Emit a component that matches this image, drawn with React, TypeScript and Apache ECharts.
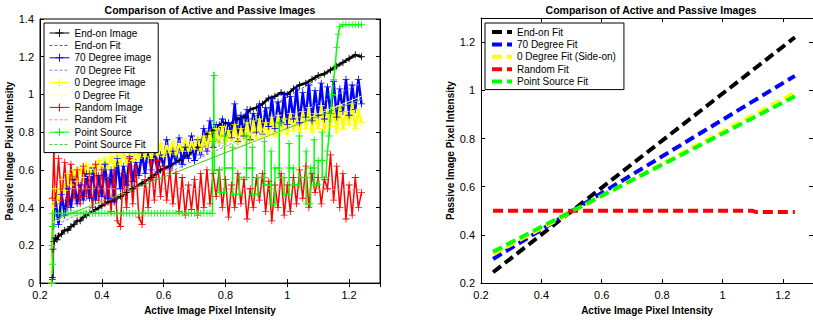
import React, { useEffect, useRef } from "react";
import * as echarts from "echarts";

const TITLE = "Comparison of Active and Passive Images";
const X_NAME = "Active Image Pixel Intensity";
const Y_NAME = "Passive Image Pixel Intensity";

// left panel axis ranges
const LEFT_X = { min: 0.2, max: 1.3, interval: 0.2 };
const LEFT_Y = { min: 0, max: 1.4, interval: 0.2 };
// right panel axis ranges
const RIGHT_X = { min: 0.2, max: 1.3, interval: 0.2 };
const RIGHT_Y = { min: 0.2, max: 1.3, interval: 0.2 };

const leftNames = [
  "End-on Image", "End-on Fit", "70 Degree image", "70 Degree Fit",
  "0 Degree image", "0 Degree Fit", "Random Image", "Random Fit",
  "Point Source", "Point Source Fit",
];
const rightNames = [
  "End-on Fit", "70 Degree Fit", "0 Degree Fit (Side-on)", "Random Fit", "Point Source Fit",
];
const rightColors = ["#000000", "#0000ff", "#ffff00", "#ff0000", "#00ff00"];

const endOnImage = [
  [0.24, 0.03], [0.242, 0.18], [0.245, 0.22], [0.25, 0.24], [0.255, 0.23], [0.26, 0.25], [0.27, 0.26],
  [0.28, 0.28], [0.29, 0.28], [0.3, 0.3], [0.31, 0.31], [0.32, 0.33], [0.33, 0.33], [0.34, 0.35],
  [0.35, 0.36], [0.36, 0.37], [0.37, 0.38], [0.38, 0.39], [0.4, 0.41], [0.42, 0.43], [0.44, 0.44],
  [0.46, 0.46], [0.48, 0.48], [0.5, 0.5], [0.53, 0.53], [0.56, 0.56], [0.59, 0.6], [0.62, 0.62],
  [0.65, 0.65], [0.68, 0.68], [0.71, 0.72], [0.74, 0.79], [0.76, 0.81], [0.78, 0.84], [0.8, 0.85],
  [0.82, 0.84], [0.84, 0.87], [0.86, 0.88], [0.88, 0.92], [0.9, 0.93], [0.92, 0.95], [0.94, 0.98],
  [0.96, 0.99], [0.98, 1.01], [1.0, 1.0], [1.02, 1.03], [1.04, 1.05], [1.06, 1.06], [1.08, 1.08],
  [1.1, 1.1], [1.12, 1.11], [1.14, 1.13], [1.16, 1.15], [1.18, 1.17], [1.2, 1.19], [1.22, 1.21], [1.24, 1.2],
];

const deg70Image = [
  [0.24, 0.02], [0.242, 0.3], [0.25, 0.44], [0.26, 0.31], [0.27, 0.47], [0.28, 0.36], [0.29, 0.5],
  [0.3, 0.4], [0.31, 0.55], [0.32, 0.42], [0.33, 0.52], [0.34, 0.44], [0.35, 0.58], [0.36, 0.45],
  [0.37, 0.61], [0.38, 0.44], [0.39, 0.57], [0.4, 0.46], [0.41, 0.63], [0.42, 0.45], [0.43, 0.6],
  [0.44, 0.43], [0.45, 0.66], [0.46, 0.5], [0.47, 0.62], [0.48, 0.52], [0.49, 0.67], [0.5, 0.54],
  [0.51, 0.64], [0.52, 0.57], [0.53, 0.69], [0.54, 0.58], [0.55, 0.74], [0.56, 0.6], [0.57, 0.71],
  [0.58, 0.59], [0.59, 0.68], [0.6, 0.62], [0.61, 0.76], [0.62, 0.61], [0.63, 0.7], [0.64, 0.64],
  [0.65, 0.77], [0.66, 0.63], [0.67, 0.72], [0.68, 0.66], [0.69, 0.78], [0.7, 0.65], [0.71, 0.76],
  [0.72, 0.68], [0.73, 0.82], [0.74, 0.7], [0.75, 0.86], [0.76, 0.72], [0.77, 0.84], [0.78, 0.74],
  [0.79, 0.87], [0.8, 0.73], [0.81, 0.85], [0.82, 0.77], [0.83, 0.95], [0.84, 0.75], [0.85, 0.89],
  [0.86, 0.78], [0.87, 0.92], [0.88, 0.76], [0.89, 0.9], [0.9, 0.8], [0.91, 0.95], [0.92, 0.79],
  [0.93, 0.93], [0.94, 0.83], [0.95, 0.98], [0.96, 0.82], [0.97, 0.96], [0.98, 0.85], [0.99, 1.0],
  [1.0, 0.84], [1.01, 0.99], [1.02, 0.87], [1.03, 1.03], [1.04, 0.85], [1.05, 1.01], [1.06, 0.88],
  [1.07, 1.05], [1.08, 0.86], [1.09, 1.02], [1.1, 0.89], [1.11, 1.06], [1.12, 0.87], [1.13, 1.04],
  [1.14, 0.9], [1.15, 1.07], [1.16, 0.88], [1.17, 1.03], [1.18, 0.91], [1.19, 1.08], [1.2, 0.89],
  [1.21, 1.05], [1.22, 0.92], [1.23, 1.08], [1.24, 0.95],
];

const deg0Image = [
  [0.238, 0.0], [0.24, 0.2], [0.242, 0.4], [0.25, 0.5], [0.26, 0.44], [0.27, 0.55], [0.28, 0.49],
  [0.29, 0.58], [0.3, 0.52], [0.31, 0.6], [0.32, 0.54], [0.33, 0.61], [0.34, 0.56], [0.35, 0.63],
  [0.36, 0.57], [0.37, 0.62], [0.38, 0.59], [0.39, 0.65], [0.4, 0.6], [0.41, 0.66], [0.42, 0.61],
  [0.43, 0.67], [0.44, 0.62], [0.45, 0.68], [0.46, 0.63], [0.47, 0.7], [0.48, 0.64], [0.49, 0.69],
  [0.5, 0.65], [0.51, 0.72], [0.52, 0.66], [0.53, 0.71], [0.54, 0.67], [0.55, 0.73], [0.56, 0.66],
  [0.57, 0.72], [0.58, 0.68], [0.59, 0.74], [0.6, 0.67], [0.61, 0.73], [0.62, 0.69], [0.63, 0.75],
  [0.64, 0.68], [0.65, 0.74], [0.66, 0.7], [0.67, 0.76], [0.68, 0.7], [0.69, 0.75], [0.7, 0.71],
  [0.71, 0.77], [0.72, 0.7], [0.73, 0.78], [0.74, 0.72], [0.75, 0.8], [0.76, 0.71], [0.77, 0.82],
  [0.78, 0.74], [0.79, 0.83], [0.8, 0.73], [0.81, 0.81], [0.82, 0.75], [0.83, 0.84], [0.84, 0.74],
  [0.85, 0.82], [0.86, 0.76], [0.87, 0.85], [0.88, 0.75], [0.89, 0.86], [0.9, 0.77], [0.91, 0.87],
  [0.92, 0.78], [0.93, 0.85], [0.94, 0.79], [0.95, 0.88], [0.96, 0.78], [0.97, 0.89], [0.98, 0.8],
  [0.99, 0.87], [1.0, 0.79], [1.01, 0.9], [1.02, 0.81], [1.03, 0.88], [1.04, 0.8], [1.05, 0.91],
  [1.06, 0.82], [1.07, 0.93], [1.08, 0.8], [1.09, 0.9], [1.1, 0.82], [1.11, 0.94], [1.12, 0.81],
  [1.13, 0.92], [1.14, 0.83], [1.15, 0.93], [1.16, 0.8], [1.17, 0.94], [1.18, 0.82], [1.19, 0.91],
  [1.2, 0.84], [1.21, 0.95], [1.22, 0.82], [1.23, 0.92], [1.24, 0.85],
];

const randomImage = [
  [0.24, 0.45], [0.245, 0.7], [0.25, 0.42], [0.26, 0.66], [0.27, 0.44], [0.28, 0.64], [0.29, 0.4],
  [0.3, 0.63], [0.31, 0.45], [0.32, 0.6], [0.33, 0.42], [0.34, 0.62], [0.35, 0.46], [0.36, 0.58],
  [0.37, 0.4], [0.38, 0.63], [0.39, 0.44], [0.4, 0.6], [0.41, 0.42], [0.42, 0.56], [0.43, 0.38],
  [0.44, 0.6], [0.45, 0.33], [0.46, 0.3], [0.47, 0.58], [0.48, 0.4], [0.49, 0.66], [0.5, 0.42],
  [0.51, 0.62], [0.52, 0.35], [0.53, 0.31], [0.54, 0.55], [0.55, 0.4], [0.56, 0.64], [0.57, 0.44],
  [0.58, 0.65], [0.59, 0.46], [0.6, 0.62], [0.61, 0.44], [0.62, 0.6], [0.63, 0.42], [0.64, 0.58],
  [0.65, 0.38], [0.66, 0.56], [0.67, 0.36], [0.68, 0.52], [0.69, 0.39], [0.7, 0.55], [0.71, 0.36],
  [0.72, 0.58], [0.73, 0.4], [0.74, 0.6], [0.75, 0.42], [0.76, 0.58], [0.77, 0.46], [0.78, 0.6],
  [0.79, 0.4], [0.8, 0.55], [0.81, 0.35], [0.82, 0.52], [0.83, 0.4], [0.84, 0.58], [0.85, 0.42],
  [0.86, 0.55], [0.87, 0.34], [0.88, 0.5], [0.89, 0.4], [0.9, 0.56], [0.91, 0.44], [0.92, 0.58],
  [0.93, 0.38], [0.94, 0.54], [0.95, 0.33], [0.96, 0.52], [0.97, 0.4], [0.98, 0.58], [0.99, 0.36],
  [1.0, 0.52], [1.01, 0.38], [1.02, 0.56], [1.03, 0.42], [1.04, 0.6], [1.05, 0.45], [1.06, 0.62],
  [1.07, 0.4], [1.08, 0.58], [1.09, 0.48], [1.1, 0.56], [1.11, 0.42], [1.12, 0.55], [1.13, 0.5],
  [1.14, 0.68], [1.15, 0.44], [1.16, 0.62], [1.17, 0.4], [1.18, 0.58], [1.19, 0.34], [1.2, 0.52],
  [1.21, 0.36], [1.22, 0.56], [1.23, 0.4], [1.24, 0.48],
];

const pointSource = [
  [0.238, 0.0], [0.241, 0.1], [0.238, 0.2], [0.241, 0.3], [0.24, 0.37], [0.25, 0.37], [0.26, 0.37],
  [0.27, 0.37], [0.28, 0.37], [0.29, 0.37], [0.3, 0.37], [0.31, 0.37], [0.32, 0.37], [0.33, 0.37],
  [0.34, 0.37], [0.35, 0.37], [0.36, 0.37], [0.37, 0.37], [0.38, 0.37], [0.39, 0.37], [0.4, 0.37],
  [0.41, 0.37], [0.42, 0.37], [0.43, 0.37], [0.44, 0.37], [0.45, 0.37], [0.46, 0.37], [0.47, 0.37],
  [0.48, 0.37], [0.49, 0.37], [0.5, 0.37], [0.51, 0.37], [0.52, 0.37], [0.53, 0.37], [0.54, 0.37],
  [0.55, 0.37], [0.56, 0.37], [0.57, 0.37], [0.58, 0.37], [0.59, 0.37], [0.6, 0.37], [0.61, 0.37],
  [0.62, 0.37], [0.63, 0.37], [0.64, 0.37], [0.65, 0.37], [0.66, 0.37], [0.67, 0.37], [0.68, 0.37],
  [0.69, 0.37], [0.7, 0.37], [0.71, 0.37], [0.72, 0.37], [0.73, 0.37], [0.74, 0.37], [0.75, 0.37],
  [0.758, 0.37], [0.758, 0.75], [0.762, 0.75], [0.762, 1.1], [0.764, 1.1], [0.764, 0.6], [0.78, 0.6],
  [0.78, 0.48], [0.797, 0.48], [0.797, 0.78], [0.797, 0.61], [0.823, 0.61], [0.823, 0.72],
  [0.823, 0.47], [0.845, 0.47], [0.845, 0.56], [0.868, 0.56], [0.868, 0.78], [0.868, 0.61],
  [0.887, 0.61], [0.887, 0.72], [0.887, 0.47], [0.905, 0.47], [0.905, 0.56], [0.926, 0.56],
  [0.926, 0.75], [0.926, 0.52], [0.948, 0.52], [0.948, 0.7], [0.948, 0.42], [0.96, 0.42], [0.96, 0.61],
  [0.974, 0.61], [0.974, 0.85], [0.974, 0.56], [0.99, 0.56], [0.99, 0.47], [1.006, 0.47], [1.006, 0.74],
  [1.006, 0.61], [1.02, 0.61], [1.02, 0.52], [1.039, 0.52], [1.039, 0.78], [1.039, 0.56], [1.061, 0.56],
  [1.061, 0.7], [1.061, 0.42], [1.075, 0.42], [1.075, 0.61], [1.087, 0.61], [1.087, 0.76], [1.087, 0.52],
  [1.1, 0.52], [1.1, 0.65], [1.113, 0.65], [1.113, 0.8], [1.113, 0.56], [1.125, 0.56], [1.13, 0.7],
  [1.135, 0.78], [1.14, 0.9], [1.145, 1.0], [1.15, 1.08], [1.155, 1.15], [1.16, 1.25], [1.165, 1.32],
  [1.17, 1.36], [1.18, 1.37], [1.19, 1.37], [1.2, 1.37], [1.21, 1.37], [1.22, 1.37], [1.23, 1.37],
  [1.24, 1.37],
];

// fitted lines
const fitEndOn = [[0.24, 0.245], [1.24, 1.22]];
const fit70 = [[0.24, 0.3], [1.24, 1.06]];
const fit0 = [[0.24, 0.32], [1.24, 0.99]];
const fitRandom = [[0.24, 0.5], [1.1, 0.5], [1.11, 0.495], [1.24, 0.495]];
const fitPoint = [[0.24, 0.33], [1.24, 0.975]];

const FONT = "Liberation Sans";
const PLUS = "path://M4.4,0H5.6V4.4H10V5.6H5.6V10H4.4V5.6H0V4.4H4.4Z";

function imageSeries(name: string, data: number[][], color: string, width: number) {
  return {
    type: "line", name, data, xAxisIndex: 0, yAxisIndex: 0,
    symbol: PLUS, symbolSize: 7, showSymbol: true,
    itemStyle: { color }, lineStyle: { color, width },
  };
}
function thinFit(name: string, data: number[][], color: string, dashed: boolean) {
  return {
    type: "line", name, data, xAxisIndex: 0, yAxisIndex: 0, symbol: "none",
    itemStyle: { color }, lineStyle: { color, width: 1, type: dashed ? [3, 2] : "solid" },
  };
}
function thickFit(name: string, data: number[][], color: string) {
  return {
    type: "line", name, data, xAxisIndex: 2, yAxisIndex: 2, symbol: "none",
    itemStyle: { color }, lineStyle: { color, width: 4, type: [10, 5] },
  };
}

function axisPair(
  gridIndex: number, r: { min: number; max: number; interval: number }, dim: "x" | "y",
  name: string, nameGap: number, showMax: boolean
) {
  const main = {
    type: "value", gridIndex, min: r.min, max: r.max, interval: r.interval,
    position: dim === "x" ? "bottom" : "left",
    name, nameLocation: "middle", nameGap,
    nameTextStyle: { fontFamily: FONT, fontSize: 10, fontWeight: "bold", color: "#000" },
    axisLine: { show: true, lineStyle: { color: "#000", width: 1 } },
    axisTick: { show: true, inside: true, length: 4, lineStyle: { color: "#000" } },
    axisLabel: { fontFamily: FONT, fontSize: 11, color: "#000", margin: 6, showMaxLabel: showMax },
    splitLine: { show: false },
  };
  const mirror = {
    type: "value", gridIndex, min: r.min, max: r.max, interval: r.interval,
    position: dim === "x" ? "top" : "right",
    axisLine: { show: true, lineStyle: { color: "#000", width: 1 } },
    axisTick: { show: true, inside: true, length: 4, lineStyle: { color: "#000" } },
    axisLabel: { show: false },
    splitLine: { show: false },
  };
  return [main, mirror];
}

export default function App() {
  const ref = useRef<HTMLDivElement>(null);
  useEffect(() => {
    if (!ref.current) return;
    const chart = echarts.init(ref.current, null, { renderer: "svg" });
    const [lx0, lx1] = axisPair(0, LEFT_X, "x", X_NAME, 16, false);
    const [ly0, ly1] = axisPair(0, LEFT_Y, "y", Y_NAME, 22, true);
    const [rx0, rx1] = axisPair(1, RIGHT_X, "x", X_NAME, 16, false);
    const [ry0, ry1] = axisPair(1, RIGHT_Y, "y", Y_NAME, 23, false);
    const titleText = { fontFamily: FONT, fontSize: 10.5, fontWeight: "bold", color: "#000" };
    const option: any = {
      animation: false,
      textStyle: { fontFamily: FONT },
      title: [
        { text: TITLE, left: 210, top: 4, textAlign: "center", padding: 0, textStyle: titleText },
        { text: TITLE, left: 651, top: 4, textAlign: "center", padding: 0, textStyle: titleText },
      ],
      grid: [
        { left: 40, right: 433, top: 19, bottom: 33, show: true, borderColor: "#000", borderWidth: 1, backgroundColor: "#fff" },
        { left: 481, right: -9, top: 18, bottom: 33, show: false },
      ],
      xAxis: [lx0, lx1, rx0, rx1],
      yAxis: [ly0, ly1, ry0, ry1],
      legend: [
        {
          data: leftNames.map((n) =>
            n.indexOf("Fit") >= 0
              ? { name: n, itemStyle: { opacity: 0 }, lineStyle: { width: 1, type: [3, 2] } }
              : { name: n, lineStyle: { width: 1 } }
          ),
          orient: "vertical", left: 44, top: 23, itemWidth: 20, itemHeight: 10, itemGap: 2.4,
          padding: [5, 7, 3, 5], backgroundColor: "#fff", borderColor: "#000", borderWidth: 1,
          selectedMode: false, textStyle: { fontFamily: FONT, fontSize: 10, color: "#000" },
        },
        {
          data: rightNames.map((n, i) => ({
            name: n,
            itemStyle: { opacity: 0 },
            lineStyle: { width: 4, type: [10, 5], color: rightColors[i] },
          })),
          orient: "vertical", left: 485, top: 23, itemWidth: 20, itemHeight: 10, itemGap: 2.4,
          padding: [4, 8, 3, 5], backgroundColor: "#fff", borderColor: "#000", borderWidth: 1,
          selectedMode: false, textStyle: { fontFamily: FONT, fontSize: 10, color: "#000" },
        },
      ],
      series: [
        imageSeries("End-on Image", endOnImage, "#000000", 2.5),
        thinFit("End-on Fit", fitEndOn, "#555555", true),
        imageSeries("70 Degree image", deg70Image, "#0000ff", 2.5),
        thinFit("70 Degree Fit", fit70, "#8080ff", true),
        imageSeries("0 Degree image", deg0Image, "#ffff00", 2.5),
        thinFit("0 Degree Fit", fit0, "#ffff80", false),
        imageSeries("Random Image", randomImage, "#ff0000", 1.5),
        thinFit("Random Fit", fitRandom, "#ff8080", true),
        imageSeries("Point Source", pointSource, "#00ff00", 1.5),
        thinFit("Point Source Fit", fitPoint, "#33cc33", false),
        thickFit("End-on Fit", fitEndOn, rightColors[0]),
        thickFit("70 Degree Fit", fit70, rightColors[1]),
        thickFit("0 Degree Fit (Side-on)", fit0, rightColors[2]),
        thickFit("Random Fit", fitRandom, rightColors[3]),
        thickFit("Point Source Fit", fitPoint, rightColors[4]),
      ],
    };
    chart.setOption(option);
    return () => chart.dispose();
  }, []);
  return (
    <div
      ref={ref}
      style={{ position: "fixed", left: 0, top: 0, width: 813, height: 320, background: "#fff" }}
    />
  );
}
